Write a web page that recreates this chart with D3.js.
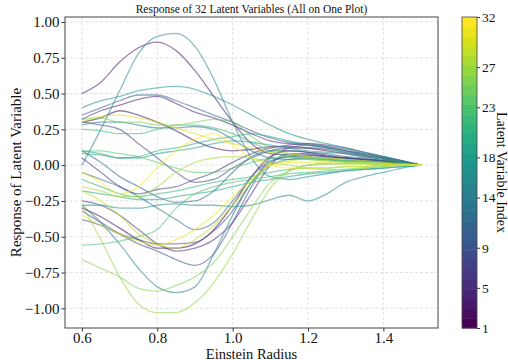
<!DOCTYPE html>
<html>
<head>
<meta charset="utf-8">
<script src="https://cdn.jsdelivr.net/npm/d3@7"></script>
<style>
  html, body { margin: 0; padding: 0; background: #fff; }
  svg { display: block; }
  text { font-family: "Liberation Serif", "DejaVu Serif", serif; fill: #111; }
</style>
</head>
<body>
<svg id="chart" width="508" height="360"></svg>
<script>
// Einstein radius sample points
const radius = [0.6,0.65,0.7,0.75,0.8,0.85,0.9,0.95,1.0,1.05,1.1,1.15,1.2,1.25,1.3,1.35,1.4,1.45,1.5];

// Response of each latent variable (index 1..32) at the sample points
const latent01 = [-0.30,-0.36,-0.44,-0.52,-0.58,-0.58,-0.55,-0.45,-0.28,-0.08,0.06,0.10,0.09,0.07,0.05,0.04,0.03,0.01,0.0];
const latent02 = [0.30,0.33,0.38,0.35,0.30,0.24,0.17,0.12,0.10,0.11,0.13,0.13,0.12,0.10,0.08,0.06,0.04,0.02,0.0];
const latent03 = [0.50,0.58,0.72,0.82,0.86,0.80,0.66,0.48,0.30,0.15,0.08,0.07,0.07,0.06,0.05,0.04,0.03,0.02,0.0];
const latent04 = [0.32,0.38,0.42,0.46,0.48,0.43,0.37,0.33,0.28,0.22,0.17,0.15,0.14,0.12,0.10,0.07,0.05,0.02,0.0];
const latent05 = [-0.25,-0.28,-0.35,-0.45,-0.55,-0.60,-0.58,-0.52,-0.40,-0.20,0.00,0.08,0.08,0.06,0.05,0.04,0.03,0.01,0.0];
const latent06 = [0.05,-0.05,-0.15,-0.20,-0.17,-0.15,-0.10,-0.05,0.02,0.08,0.12,0.14,0.15,0.14,0.12,0.09,0.06,0.03,0.0];
const latent07 = [0.30,0.28,0.25,0.15,0.05,-0.05,-0.12,-0.10,-0.02,0.05,0.10,0.12,0.12,0.11,0.09,0.07,0.05,0.02,0.0];
const latent08 = [-0.38,-0.42,-0.48,-0.52,-0.55,-0.55,-0.54,-0.46,-0.32,-0.12,0.02,0.06,0.06,0.05,0.04,0.03,0.02,0.01,0.0];
const latent09 = [-0.32,-0.40,-0.48,-0.55,-0.60,-0.66,-0.70,-0.62,-0.40,-0.15,0.05,0.12,0.14,0.13,0.11,0.08,0.06,0.03,0.0];
const latent10 = [0.35,0.40,0.45,0.49,0.49,0.45,0.40,0.35,0.30,0.24,0.19,0.16,0.15,0.13,0.10,0.08,0.05,0.03,0.0];
const latent11 = [0.10,0.02,-0.08,-0.15,-0.22,-0.26,-0.25,-0.18,-0.05,0.06,0.10,0.10,0.09,0.08,0.06,0.05,0.03,0.02,0.0];
const latent12 = [-0.05,-0.10,-0.15,-0.22,-0.30,-0.38,-0.45,-0.40,-0.25,-0.08,0.03,0.06,0.07,0.06,0.05,0.04,0.03,0.01,0.0];
const latent13 = [0.28,0.30,0.30,0.28,0.26,0.26,0.27,0.25,0.18,0.10,0.05,0.04,0.04,0.04,0.03,0.03,0.02,0.01,0.0];
const latent14 = [-0.28,-0.40,-0.55,-0.72,-0.85,-0.89,-0.85,-0.62,-0.35,-0.12,0.00,0.04,0.05,0.04,0.03,0.03,0.02,0.01,0.0];
const latent15 = [0.0,0.25,0.52,0.78,0.90,0.92,0.83,0.60,0.30,0.05,-0.08,-0.10,-0.08,-0.06,-0.04,-0.03,-0.02,-0.01,0.0];
const latent16 = [-0.28,-0.28,-0.30,-0.30,-0.28,-0.27,-0.28,-0.28,-0.29,-0.28,-0.24,-0.21,-0.25,-0.20,-0.12,-0.08,-0.05,-0.02,0.0];
const latent17 = [0.40,0.45,0.48,0.52,0.54,0.55,0.53,0.48,0.42,0.35,0.28,0.22,0.18,0.15,0.12,0.09,0.06,0.03,0.0];
const latent18 = [0.10,0.08,0.05,0.05,0.08,0.10,0.12,0.15,0.17,0.16,0.14,0.12,0.10,0.09,0.08,0.06,0.04,0.02,0.0];
const latent19 = [-0.18,-0.20,-0.22,-0.24,-0.24,-0.22,-0.20,-0.18,-0.15,-0.12,-0.10,-0.08,-0.06,-0.05,-0.04,-0.03,-0.02,-0.01,0.0];
const latent20 = [0.08,0.07,0.05,0.06,0.10,0.12,0.15,0.18,0.20,0.22,0.20,0.17,0.14,0.12,0.09,0.07,0.05,0.02,0.0];
const latent21 = [-0.10,-0.15,-0.20,-0.22,-0.20,-0.18,-0.15,-0.12,-0.10,-0.08,-0.05,-0.03,-0.02,-0.02,-0.01,-0.01,0.0,0.0,0.0];
const latent22 = [0.25,0.24,0.22,0.22,0.25,0.28,0.28,0.26,0.22,0.16,0.10,0.06,0.04,0.03,0.02,0.02,0.01,0.01,0.0];
const latent23 = [-0.56,-0.55,-0.53,-0.50,-0.45,-0.30,-0.20,-0.15,-0.12,-0.10,-0.08,-0.06,-0.05,-0.04,-0.03,-0.02,-0.01,0.0,0.0];
const latent24 = [0.10,0.10,0.08,0.06,0.02,-0.02,-0.05,-0.05,-0.02,0.02,0.05,0.06,0.05,0.04,0.03,0.02,0.01,0.0,0.0];
const latent25 = [0.32,0.33,0.30,0.30,0.28,0.28,0.30,0.32,0.30,0.20,0.12,0.08,0.06,0.04,0.03,0.02,0.01,0.0,0.0];
const latent26 = [-0.66,-0.72,-0.78,-0.86,-0.88,-0.84,-0.78,-0.68,-0.50,-0.30,-0.12,-0.04,0.0,0.01,0.01,0.01,0.0,0.0,0.0];
const latent27 = [-0.28,-0.52,-0.78,-0.97,-1.03,-1.03,-0.96,-0.82,-0.62,-0.38,-0.16,-0.04,0.00,0.01,0.01,0.01,0.0,0.0,0.0];
const latent28 = [-0.15,-0.18,-0.22,-0.22,-0.15,-0.05,0.02,0.05,0.06,0.05,0.02,0.0,-0.02,-0.03,-0.03,-0.02,-0.01,0.0,0.0];
const latent29 = [-0.18,-0.25,-0.35,-0.48,-0.55,-0.58,-0.52,-0.42,-0.28,-0.12,0.0,0.03,0.04,0.03,0.02,0.02,0.01,0.0,0.0];
const latent30 = [0.30,0.34,0.35,0.33,0.30,0.26,0.22,0.18,0.15,0.12,0.09,0.08,0.06,0.05,0.04,0.03,0.02,0.01,0.0];
const latent31 = [-0.35,-0.42,-0.48,-0.53,-0.56,-0.52,-0.45,-0.35,-0.22,-0.10,0.0,0.02,0.02,0.02,0.01,0.01,0.01,0.0,0.0];
const latent32 = [-0.05,-0.12,-0.20,-0.15,-0.02,0.10,0.18,0.22,0.14,0.05,0.0,-0.02,-0.02,-0.02,-0.01,-0.01,0.0,0.0,0.0];

const responses = [latent01,latent02,latent03,latent04,latent05,latent06,latent07,latent08,
                   latent09,latent10,latent11,latent12,latent13,latent14,latent15,latent16,
                   latent17,latent18,latent19,latent20,latent21,latent22,latent23,latent24,
                   latent25,latent26,latent27,latent28,latent29,latent30,latent31,latent32];

// Axis ticks
const xTicks = [0.6, 0.8, 1.0, 1.2, 1.4];
const yTicks = [-1.0, -0.75, -0.5, -0.25, 0.0, 0.25, 0.5, 0.75, 1.0];
const cbarTicks = [1, 5, 9, 14, 18, 23, 27, 32];

const SERIF = "'Liberation Serif', 'DejaVu Serif', serif";
const svg = d3.select("#chart");
const plot = { left: 65, right: 438, top: 17, bottom: 328 };

const x = d3.scaleLinear().domain([0.555, 1.545]).range([plot.left, plot.right]);
const y = d3.scaleLinear().domain([-1.1375, 1.035]).range([plot.bottom, plot.top]);

const nVars = responses.length;
const color = i => d3.interpolateViridis(i / (nVars - 1));

// grid
const grid = svg.append("g").attr("class", "grid");
grid.selectAll("line.gx").data(xTicks).join("line")
  .attr("x1", d => x(d)).attr("x2", d => x(d))
  .attr("y1", plot.top).attr("y2", plot.bottom)
  .attr("stroke", "#d9d9d9").attr("stroke-width", 0.8).attr("stroke-dasharray", "3,2");
grid.selectAll("line.gy").data(yTicks).join("line")
  .attr("x1", plot.left).attr("x2", plot.right)
  .attr("y1", d => y(d)).attr("y2", d => y(d))
  .attr("stroke", "#d9d9d9").attr("stroke-width", 0.8).attr("stroke-dasharray", "3,2");

// one line per latent variable
const line = d3.line()
  .x((d, i) => x(radius[i]))
  .y(d => y(d))
  .curve(d3.curveMonotoneX);

svg.append("g").attr("class", "series")
  .selectAll("path").data(responses).join("path")
  .attr("d", d => line(d))
  .attr("fill", "none")
  .attr("stroke", (d, i) => color(i))
  .attr("stroke-opacity", 0.55)
  .attr("stroke-width", 1.3);

// axes
const fmtY = v => d3.format(".2f")(v).replace("-", "\u2212");
const xAxis = d3.axisBottom(x).tickValues(xTicks).tickFormat(d3.format(".1f")).tickSize(3.5).tickPadding(1);
const yAxis = d3.axisLeft(y).tickValues(yTicks).tickFormat(fmtY).tickSize(3.5).tickPadding(2);

const gx = svg.append("g").attr("transform", `translate(0,${plot.bottom})`).call(xAxis);
const gy = svg.append("g").attr("transform", `translate(${plot.left},0)`).call(yAxis);
[gx, gy].forEach(g => {
  g.attr("font-family", SERIF).attr("font-size", 15);
  g.select(".domain").remove();
  g.selectAll(".tick line").attr("stroke", "#333");
  g.selectAll(".tick text").attr("fill", "#111");
});

// frame
svg.append("rect")
  .attr("x", plot.left).attr("y", plot.top)
  .attr("width", plot.right - plot.left).attr("height", plot.bottom - plot.top)
  .attr("fill", "none").attr("stroke", "#444").attr("stroke-width", 1);

// titles
svg.append("text").attr("x", (plot.left + plot.right) / 2).attr("y", 13)
  .attr("text-anchor", "middle").attr("font-size", 11.5)
  .text("Response of 32 Latent Variables (All on One Plot)");
svg.append("text").attr("x", (plot.left + plot.right) / 2).attr("y", 358.5)
  .attr("text-anchor", "middle").attr("font-size", 14.5)
  .text("Einstein Radius");
svg.append("text")
  .attr("transform", `translate(21,${(plot.top + plot.bottom) / 2}) rotate(-90)`)
  .attr("text-anchor", "middle").attr("font-size", 15)
  .text("Response of Latent Variable");

// colorbar, one band per latent variable
const cb = { left: 462, width: 15, top: 17, bottom: 328 };
const cy = d3.scaleLinear().domain([1, 32]).range([cb.bottom, cb.top]);
const bandH = (cb.bottom - cb.top) / nVars;
const cbar = svg.append("g");
cbar.selectAll("rect").data(d3.range(nVars)).join("rect")
  .attr("x", cb.left).attr("width", cb.width)
  .attr("y", i => cb.bottom - (i + 1) * bandH).attr("height", bandH + 0.5)
  .attr("fill", i => color(i));
cbar.append("rect").attr("x", cb.left).attr("y", cb.top)
  .attr("width", cb.width).attr("height", cb.bottom - cb.top)
  .attr("fill", "none").attr("stroke", "#444").attr("stroke-width", 0.8);
const cAxis = d3.axisRight(cy).tickValues(cbarTicks).tickFormat(d3.format("d")).tickSize(3).tickPadding(2);
const gc = svg.append("g").attr("transform", `translate(${cb.left + cb.width},0)`).call(cAxis);
gc.attr("font-family", SERIF).attr("font-size", 13.5);
gc.select(".domain").remove();
gc.selectAll(".tick line").attr("stroke", "#333");
gc.selectAll(".tick text").attr("fill", "#111");
svg.append("text")
  .attr("transform", `translate(497,${(cb.top + cb.bottom) / 2}) rotate(90)`)
  .attr("text-anchor", "middle").attr("font-size", 14)
  .text("Latent Variable Index");
</script>
</body>
</html>
